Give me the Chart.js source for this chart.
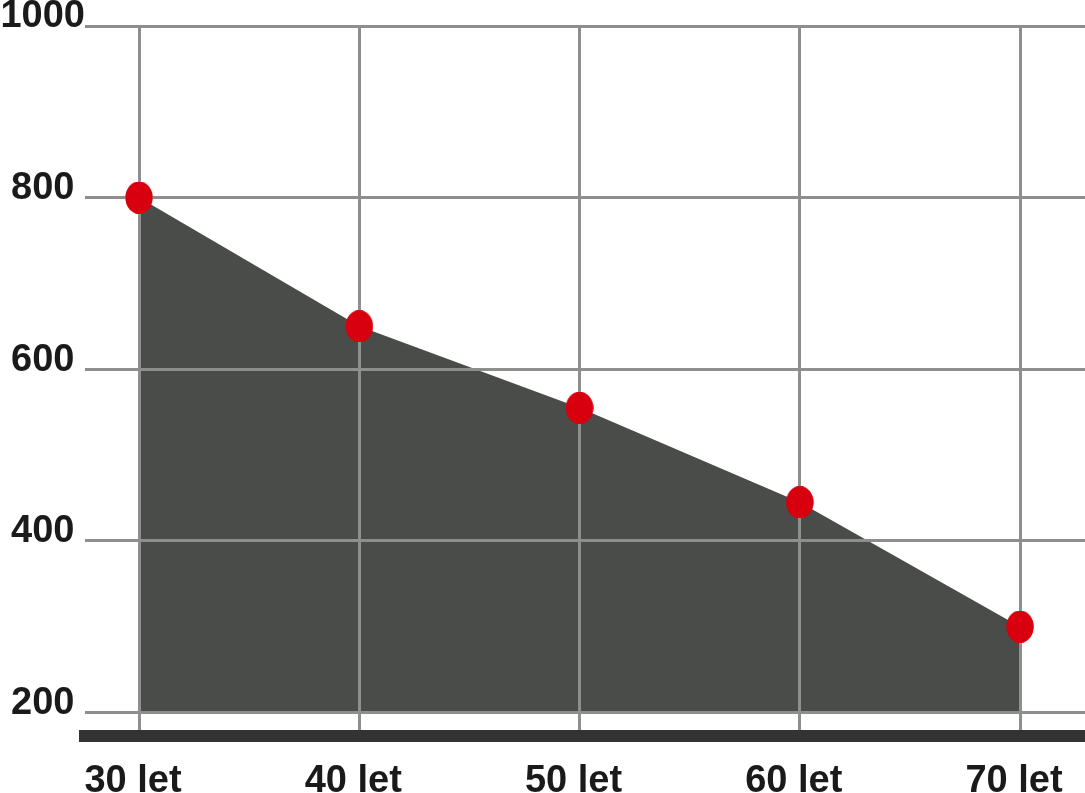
<!DOCTYPE html>
<html>
<head>
<meta charset="utf-8">
<script src="https://cdn.jsdelivr.net/npm/chart.js@4.4.1/dist/chart.umd.min.js"></script>
<style>
  html, body { margin: 0; padding: 0; background: #fff; }
  #chart-wrap { width: 1085px; height: 793px; }
</style>
</head>
<body>
<div id="chart-wrap"><canvas id="age-chart" width="1085" height="793"></canvas></div>
<script>
const ageLabels = ["30 let", "40 let", "50 let", "60 let", "70 let"];
const ageYears = [30, 40, 50, 60, 70];
const values = [800, 650, 555, 445, 300];
const yTicks = [200, 400, 600, 800, 1000];

const labelFont = { family: "'Liberation Sans', Arial, sans-serif", size: 38, weight: "bold" };
const gridColor = "#8e8e8e";

// red oval marker, a bit taller than wide
const makeDot = () => {
  const c = document.createElement("canvas");
  c.width = 28;
  c.height = 32;
  const g = c.getContext("2d");
  g.fillStyle = "#d8000e";
  g.beginPath();
  g.ellipse(14, 16, 13.5, 16, 0, 0, Math.PI * 2);
  g.fill();
  return c;
};

// grid sits above the fill, dots go back on top of the grid
const dotsOnTop = {
  id: "dotsOnTop",
  afterDraw(chart) {
    const meta = chart.getDatasetMeta(0);
    meta.data.forEach((pt) => pt.draw(chart.ctx, chart.chartArea));
  }
};

const points = ageYears.map((x, i) => ({ x, y: values[i] }));

new Chart(document.getElementById("age-chart"), {
  type: "line",
  data: {
    datasets: [{
      data: points,
      backgroundColor: "#4a4c49",
      borderWidth: 0,
      fill: { value: 200 },
      tension: 0,
      pointStyle: makeDot(),
      pointRadius: 14,
      pointHoverRadius: 14,
    }]
  },
  options: {
    responsive: false,
    devicePixelRatio: 1,
    animation: false,
    layout: { autoPadding: false, padding: { top: 26, left: 0, right: 0, bottom: 0 } },
    plugins: { legend: { display: false }, tooltip: { enabled: false } },
    scales: {
      x: {
        type: "linear",
        min: 27.548,
        max: 72.951,
        afterBuildTicks: (scale) => { scale.ticks = ageYears.map((v) => ({ value: v })); },
        afterFit: (scale) => {
          scale.height = 57;
          scale.paddingLeft = 0;
          scale.paddingRight = 0;
        },
        grid: { color: gridColor, lineWidth: 3, drawTicks: false, z: 1 },
        border: { display: true, color: "#333333", width: 12, z: 1 },
        ticks: {
          color: "#1a1a1a",
          font: labelFont,
          padding: 23,
          labelOffset: -6,
          maxRotation: 0,
          autoSkip: false,
          callback: (value) => ageLabels[ageYears.indexOf(value)],
        },
      },
      y: {
        min: 172.6,
        max: 1000,
        afterBuildTicks: (scale) => { scale.ticks = yTicks.map((v) => ({ value: v })); },
        afterFit: (scale) => { scale.width = 85; },
        grid: { color: gridColor, lineWidth: 3, drawTicks: false, z: 1 },
        border: { display: false },
        ticks: {
          color: "#1a1a1a",
          font: labelFont,
          crossAlign: "center",
          labelOffset: -9,
          padding: 0,
          autoSkip: false,
          callback: (value) => String(value),
        },
      },
    },
  },
  plugins: [dotsOnTop],
});
</script>
</body>
</html>
